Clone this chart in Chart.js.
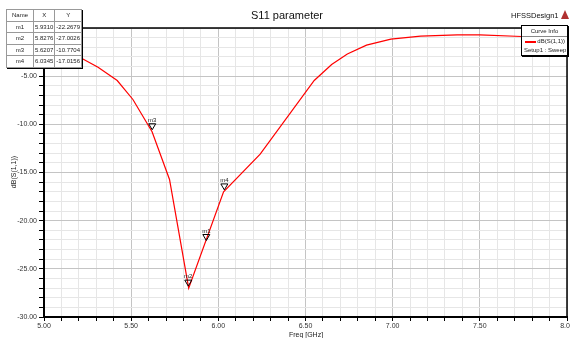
<!DOCTYPE html>
<html>
<head>
<meta charset="utf-8">
<script src="https://cdn.jsdelivr.net/npm/chart.js@4.4.1/dist/chart.umd.min.js"></script>
<style>
  body { margin: 0; background: #fff; font-family: "Liberation Sans", Arial, sans-serif; }
  #wrap { position: relative; width: 570px; height: 338px; }
  #markerTable {
    position: absolute; left: 6px; top: 9px; border-collapse: collapse;
    background: #fff; font-size: 6px; color: #222;
    border: 1px solid #000; box-shadow: 1px 1px 0 #000;
  }
  #markerTable td, #markerTable th {
    border: 1px solid #999; height: 10.5px; padding: 0 1px; font-weight: normal; text-align: center;
  }
  #curveInfo {
    position: absolute; left: 521px; top: 25px; width: 45px; height: 29px;
    background: #fff; border: 1px solid #000; box-shadow: 1px 1px 0 #000;
    font-size: 6px; color: #222;
  }
  #curveInfo .hd { text-align: center; height: 10px; line-height: 10px; border-bottom: 1px solid #888; }
  #curveInfo .row { position: relative; height: 9px; line-height: 9px; }
  #curveInfo .sw { position: absolute; left: 3px; top: 4px; width: 11px; height: 1.5px; background: #ff0000; }
  #curveInfo .nm { position: absolute; right: 2px; }
  #curveInfo .st { padding-left: 2px; line-height: 8px; }
</style>
</head>
<body>
<div id="wrap">
  <canvas id="s11Chart" width="570" height="338"></canvas>
  <table id="markerTable">
    <thead><tr><th style="width:24px">Name</th><th style="width:18px">X</th><th style="width:22px">Y</th></tr></thead>
    <tbody id="markerRows"></tbody>
  </table>
  <div id="curveInfo">
    <div class="hd">Curve Info</div>
    <div class="row"><span class="sw"></span><span class="nm">dB(S(1,1))</span></div>
    <div class="st">Setup1 : Sweep</div>
  </div>
</div>
<script>
// sweep data
const freq = [5.00, 5.10, 5.21, 5.31, 5.42, 5.51, 5.62, 5.72, 5.83, 6.03, 6.24, 6.55, 6.65, 6.74, 6.85, 6.99, 7.16, 7.37, 7.50, 7.74, 8.00];
const s11 = [-1.8, -2.4, -3.09, -4.07, -5.45, -7.42, -10.77, -15.72, -27.0, -17.0, -13.1, -5.45, -3.79, -2.7, -1.78, -1.15, -0.85, -0.71, -0.71, -0.88, -1.1];

// markers
const markerNames = ["m1", "m2", "m3", "m4"];
const markerX = [5.9310, 5.8276, 5.6207, 6.0345];
const markerY = [-22.2679, -27.0026, -10.7704, -17.0156];

const xTicksMajor = 0.5;
const yTicksMajor = 5;

// fill the marker table
const tbody = document.getElementById("markerRows");
markerNames.forEach((n, i) => {
  const tr = document.createElement("tr");
  tr.innerHTML = `<td>${n}</td><td>${markerX[i].toFixed(4)}</td><td>${markerY[i].toFixed(4)}</td>`;
  tbody.appendChild(tr);
});

function isMajor(v, step) {
  const r = v / step;
  return Math.abs(r - Math.round(r)) < 1e-6;
}

// markers, frame and texts
const hfssDecor = {
  id: "hfssDecor",
  afterDatasetsDraw(chart) {
    const { ctx, scales: { x, y } } = chart;
    ctx.save();
    ctx.strokeStyle = "#000";
    ctx.fillStyle = "#222";
    ctx.lineWidth = 1;
    ctx.font = "6px 'Liberation Sans', Arial, sans-serif";
    ctx.textAlign = "center";
    markerNames.forEach((n, i) => {
      const px = x.getPixelForValue(markerX[i]);
      const py = y.getPixelForValue(markerY[i]) - 2;
      ctx.beginPath();
      ctx.moveTo(px, py);
      ctx.lineTo(px - 3.5, py - 6);
      ctx.lineTo(px + 3.5, py - 6);
      ctx.closePath();
      ctx.stroke();
      ctx.fillText(n, px, py - 8);
    });
    ctx.restore();
  },
  afterDraw(chart) {
    const { ctx, chartArea: a } = chart;
    ctx.save();
    // plot frame
    ctx.strokeStyle = "#000";
    ctx.lineWidth = 1.5;
    ctx.strokeRect(a.left, a.top, a.right - a.left, a.bottom - a.top);

    ctx.fillStyle = "#111";
    ctx.textAlign = "center";
    ctx.textBaseline = "middle";
    ctx.font = "11px 'Liberation Sans', Arial, sans-serif";
    ctx.fillText("S11 parameter", 287, 16);

    ctx.font = "7.5px 'Liberation Sans', Arial, sans-serif";
    ctx.textAlign = "left";
    ctx.fillText("HFSSDesign1", 511, 16);

    // small logo
    ctx.fillStyle = "#b03030";
    ctx.beginPath();
    ctx.moveTo(565, 10);
    ctx.lineTo(561, 19);
    ctx.lineTo(569, 19);
    ctx.closePath();
    ctx.fill();

    ctx.fillStyle = "#222";
    ctx.font = "7px 'Liberation Sans', Arial, sans-serif";
    ctx.textAlign = "center";
    ctx.fillText("Freq [GHz]", 306, 335);

    ctx.translate(14, 172);
    ctx.rotate(-Math.PI / 2);
    ctx.fillText("dB(S(1,1))", 0, 0);
    ctx.restore();
  }
};

const ctx = document.getElementById("s11Chart").getContext("2d");
new Chart(ctx, {
  type: "scatter",
  data: {
    datasets: [{
      label: "dB(S(1,1))",
      data: freq.map((f, i) => ({ x: f, y: s11[i] })),
      showLine: true,
      borderColor: "#ff0000",
      backgroundColor: "#ff0000",
      borderWidth: 1.2,
      pointRadius: 0,
      tension: 0
    }]
  },
  options: {
    responsive: false,
    animation: false,
    devicePixelRatio: 1,
    layout: { padding: { top: 28, right: 3, left: 0, bottom: 0 } },
    plugins: { legend: { display: false }, tooltip: { enabled: false } },
    scales: {
      x: {
        type: "linear",
        min: 5, max: 8,
        afterFit(s) { s.height = 21; s.paddingLeft = 0; s.paddingRight = 0; },
        ticks: {
          stepSize: 0.1,
          autoSkip: false,
          maxRotation: 0,
          padding: 1,
          color: "#333",
          font: { size: 7, family: "'Liberation Sans', Arial, sans-serif" },
          callback: v => isMajor(v, xTicksMajor) ? v.toFixed(2) : ""
        },
        grid: {
          color: c => isMajor(c.tick.value, xTicksMajor) ? "#c4c4c4" : "#e6e6e6",
          tickColor: "#000",
          tickLength: 4
        },
        border: { color: "#000", width: 2 }
      },
      y: {
        min: -30, max: 0,
        afterFit(s) { s.width = 44; s.paddingTop = 0; s.paddingBottom = 0; },
        ticks: {
          stepSize: 1,
          autoSkip: false,
          padding: 2,
          color: "#333",
          font: { size: 7, family: "'Liberation Sans', Arial, sans-serif" },
          callback: v => isMajor(v, yTicksMajor) ? v.toFixed(2) : ""
        },
        grid: {
          color: c => isMajor(c.tick.value, yTicksMajor) ? "#c4c4c4" : "#e6e6e6",
          tickColor: "#000",
          tickLength: 5
        },
        border: { color: "#000", width: 2 }
      }
    }
  },
  plugins: [hfssDecor]
});
</script>
</body>
</html>
